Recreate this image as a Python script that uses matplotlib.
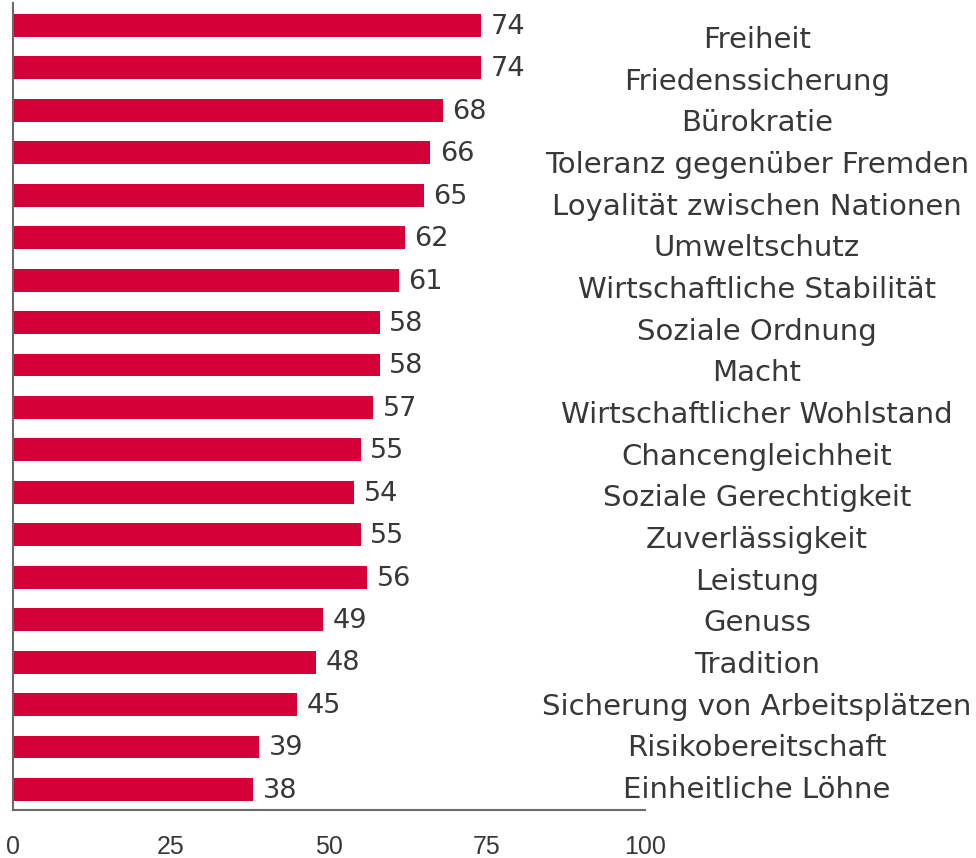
import numpy as np
import matplotlib
matplotlib.use("Agg")
import matplotlib.pyplot as plt

categories = ["Freiheit", "Friedenssicherung", "Bürokratie", "Toleranz gegenüber Fremden",
              "Loyalität zwischen Nationen", "Umweltschutz", "Wirtschaftliche Stabilität",
              "Soziale Ordnung", "Macht", "Wirtschaftlicher Wohlstand", "Chancengleichheit",
              "Soziale Gerechtigkeit", "Zuverlässigkeit", "Leistung", "Genuss", "Tradition",
              "Sicherung von Arbeitsplätzen", "Risikobereitschaft", "Einheitliche Löhne"]
values = [74, 74, 68, 66, 65, 62, 61, 58, 58, 57, 55, 54, 55, 56, 49, 48, 45, 39, 38]
x_ticks = [0, 25, 50, 75, 100]

plt.rcParams["font.family"] = ["DejaVu Sans"]

W, H = 976, 858
red = "#D50037"
txt = "#383838"

fig = plt.figure(figsize=(W / 100, H / 100), dpi=100)
# axes in pixel terms: x 13..645, y 3..810
ax = fig.add_axes([13 / W, (H - 810) / H, (645 - 13) / W, (810 - 3) / H])

pos = np.arange(len(categories))
ax.barh(pos, values, height=0.54, color=red)
ax.set_xlim(0, 100)
ax.set_ylim(18.485, -0.53)

for p, v in zip(pos, values):
    ax.annotate(str(v), (v, p), xytext=(7, -1), textcoords="offset points",
                va="center", ha="left", fontsize=19.5, color=txt)

for side in ["top", "right"]:
    ax.spines[side].set_visible(False)
for side in ["left", "bottom"]:
    ax.spines[side].set_color("#6a6a6a")
    ax.spines[side].set_linewidth(1.5)

ax.set_yticks([])
ax.set_xticks(x_ticks)
ax.set_xticklabels([str(t) for t in x_ticks], family="Liberation Sans", fontsize=18, color=txt)
ax.tick_params(axis="x", length=0, pad=18)

# category labels on the right, on their own slightly tighter spacing
ax_lab = ax.twinx()
ax_lab.set_ylim(18.55, -0.816)
ax_lab.set_yticks(pos)
ax_lab.set_yticklabels(categories, fontsize=21, color=txt, ha="center")
ax_lab.tick_params(axis="y", length=0, pad=(757 - 645) * 0.72)
for s in ax_lab.spines.values():
    s.set_visible(False)

fig.savefig("out.png", dpi=100)
